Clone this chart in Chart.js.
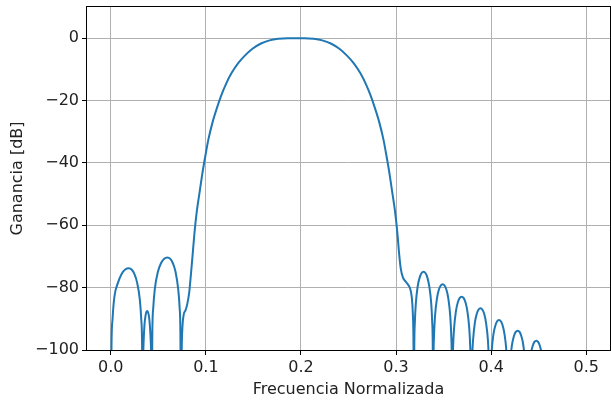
<!DOCTYPE html>
<html>
<head>
<meta charset="utf-8">
<script src="https://cdn.jsdelivr.net/npm/chart.js@4/dist/chart.umd.min.js"></script>
<style>
  html, body { margin: 0; padding: 0; background: #fff; }
  canvas { display: block; }
</style>
</head>
<body>
<canvas id="grafico" width="611" height="401"></canvas>
<script>
// respuesta en frecuencia (frecuencia normalizada, dB)
// los ceros de la respuesta se marcan con -125 (fuera del eje, se recortan)
const freq = [
  // lobulos de la banda de rechazo inferior
  0.0, 0.0008, 0.0019, 0.0038, 0.0076, 0.0114, 0.0152, 0.019, 0.0219, 0.0248, 0.0277, 0.0306, 0.0320, 0.0329, 0.0335,
  0.0337, 0.034, 0.0345, 0.0354, 0.0364, 0.0373, 0.0383, 0.0392, 0.0402, 0.0411, 0.0421, 0.0426, 0.0428, 0.043,
  0.0437, 0.0447, 0.0463, 0.0496, 0.0529, 0.0562, 0.0595, 0.0624, 0.0652, 0.0681, 0.0709, 0.0724, 0.0732, 0.0738,
  // flanco de subida
  0.0746, 0.0755, 0.0768, 0.0786, 0.0805, 0.0825, 0.0845, 0.0862, 0.0880, 0.0905, 0.0935, 0.0960, 0.0985, 0.1005,
  0.1025, 0.107, 0.1115, 0.116, 0.121, 0.127, 0.134, 0.141, 0.149, 0.158, 0.167, 0.176, 0.186,
  // banda de paso y flanco de bajada
  0.2034, 0.2134, 0.2224, 0.2314, 0.2404, 0.2484, 0.2554, 0.2624, 0.2684, 0.2734, 0.2779, 0.2824, 0.2869,
  0.2889, 0.2909, 0.2934, 0.2959, 0.2989, 0.3014, 0.3032, 0.3050, 0.3073, 0.3100, 0.3125, 0.315, 0.3165, 0.3176, 0.3183, 0.3188,
  // lobulos de la banda de rechazo superior
  0.3192, 0.3198, 0.3208, 0.3228, 0.3249, 0.3269, 0.3289, 0.3309, 0.3329, 0.3349, 0.3370, 0.3380, 0.3386, 0.3390,
  0.3394, 0.3400, 0.3410, 0.3430, 0.3450, 0.3470, 0.3490, 0.3510, 0.3530, 0.3550, 0.3570, 0.3580, 0.3586, 0.3590,
  0.3594, 0.3600, 0.3610, 0.3630, 0.3650, 0.3670, 0.3690, 0.3710, 0.3730, 0.3750, 0.3770, 0.3780, 0.3786, 0.3790,
  0.3794, 0.3800, 0.3810, 0.3829, 0.3849, 0.3868, 0.3888, 0.3907, 0.3927, 0.3946, 0.3966, 0.3975, 0.3981, 0.3985,
  0.3989, 0.3995, 0.4005, 0.4024, 0.4044, 0.4063, 0.4083, 0.4102, 0.4122, 0.4141, 0.4161, 0.4170, 0.4176, 0.4180,
  0.4184, 0.4190, 0.4200, 0.4219, 0.4239, 0.4259, 0.4279, 0.4299, 0.4318, 0.4338, 0.4357, 0.4367, 0.4373, 0.4377,
  0.4381, 0.4387, 0.4397, 0.4416, 0.4436, 0.4455, 0.4475, 0.4494, 0.4514, 0.4533, 0.4553, 0.4562, 0.4568, 0.4572,
  0.480, 0.500
];
const gain = [
  -125, -97.8, -89.9, -83, -78.4, -75.6, -74.2, -73.8, -74.2, -75.6, -78.4, -84, -89.9, -97.8, -125,
  -111.5, -103.6, -97.7, -92.1, -89.3, -87.9, -87.5, -87.9, -89.3, -92.1, -97.7, -103.6, -111.5, -125,
  -94.3, -86.4, -80.5, -74.9, -72.1, -70.7, -70.3, -70.7, -72.1, -74.9, -80.5, -86.4, -94.3, -125,
  -100, -92, -88.5, -87.3, -85.2, -81.5, -75, -69, -62.5, -55.5, -49.2, -44, -39.4, -36,
  -32.7, -27, -22.5, -18.5, -14.8, -11.2, -8, -5.6, -3.4, -1.7, -0.7, -0.2, 0,
  0, -0.2, -0.7, -1.7, -3.4, -5.6, -8, -11.2, -14.8, -18.5, -22.5, -27, -32.7,
  -36, -39.4, -44, -49.2, -55.5, -62.5, -69, -74, -76.8, -78, -79, -80.5, -83, -88, -97, -125,
  -98.9, -91.0, -85.1, -79.5, -76.7, -75.3, -74.9, -75.3, -76.7, -79.5, -85.1, -91.0, -98.9, -125,
  -102.9, -95.0, -89.1, -83.5, -80.7, -79.3, -78.9, -79.3, -80.7, -83.5, -89.1, -95.0, -102.9, -125,
  -106.9, -99.0, -93.1, -87.5, -84.7, -83.3, -82.9, -83.3, -84.7, -87.5, -93.1, -99.0, -106.9, -125,
  -110.6, -102.7, -96.8, -91.2, -88.4, -87.0, -86.6, -87.0, -88.4, -91.2, -96.8, -102.7, -110.6, -125,
  -114.4, -106.5, -100.6, -95.0, -92.2, -90.8, -90.4, -90.8, -92.2, -95.0, -100.6, -106.5, -114.4, -125,
  -117.8, -109.9, -104.0, -98.4, -95.6, -94.2, -93.8, -94.2, -95.6, -98.4, -104.0, -109.9, -117.8, -125,
  -121, -113.1, -107.2, -101.6, -98.8, -97.4, -97.0, -97.4, -98.8, -101.6, -107.2, -113.1, -121, -125,
  -125, -125
];
const xTicks = [0.0, 0.1, 0.2, 0.3, 0.4, 0.5];
const yTicks = [-100, -80, -60, -40, -20, 0];

const puntos = freq.map((f, i) => ({ x: f, y: gain[i] }));

Chart.defaults.font.family = 'DejaVu Sans';
Chart.defaults.font.size = 16;
Chart.defaults.color = '#222';

// marco completo (spines) como en matplotlib
const marco = {
  id: 'marco',
  afterDraw(chart) {
    const { ctx, chartArea: a } = chart;
    ctx.save();
    ctx.strokeStyle = '#000';
    ctx.lineWidth = 1;
    ctx.strokeRect(Math.round(a.left) - 0.5, Math.round(a.top) - 0.5,
      Math.round(a.right - a.left) + 1, Math.round(a.bottom - a.top) + 1);
    ctx.restore();
  }
};

const menos = v => String(v).replace('-', '\u2212');

new Chart(document.getElementById('grafico'), {
  type: 'line',
  data: {
    datasets: [{
      data: puntos,
      borderColor: '#1f77b4',
      borderWidth: 2,
      pointRadius: 0,
      fill: false,
      cubicInterpolationMode: 'monotone'
    }]
  },
  options: {
    responsive: false,
    animation: false,
    devicePixelRatio: 1,
    layout: { padding: { top: 7, right: 1, left: 0, bottom: 0 } },
    plugins: { legend: { display: false }, tooltip: { enabled: false } },
    scales: {
      x: {
        type: 'linear',
        min: -0.025,
        max: 0.525,
        afterBuildTicks: s => { s.ticks = xTicks.map(v => ({ value: v })); },
        afterFit: s => { s.height = 51; s.paddingLeft = 0; s.paddingRight = 0; },
        ticks: { callback: v => v.toFixed(1), maxRotation: 0, padding: 3 },
        grid: { color: '#b0b0b0', lineWidth: 1, tickColor: '#000', tickLength: 5 },
        border: { display: false },
        title: { display: true, text: 'Frecuencia Normalizada', padding: { top: 0, bottom: 2 } }
      },
      y: {
        min: -100,
        max: 10,
        afterBuildTicks: s => { s.ticks = yTicks.map(v => ({ value: v })); },
        afterFit: s => { s.width = 87; s.paddingTop = 0; s.paddingBottom = 0; },
        ticks: { callback: v => menos(v), padding: 3 },
        grid: { color: '#b0b0b0', lineWidth: 1, tickColor: '#000', tickLength: 5 },
        border: { display: false },
        title: { display: true, text: 'Ganancia [dB]', padding: { top: 8, bottom: 0 } }
      }
    }
  },
  plugins: [marco]
});
</script>
</body>
</html>
